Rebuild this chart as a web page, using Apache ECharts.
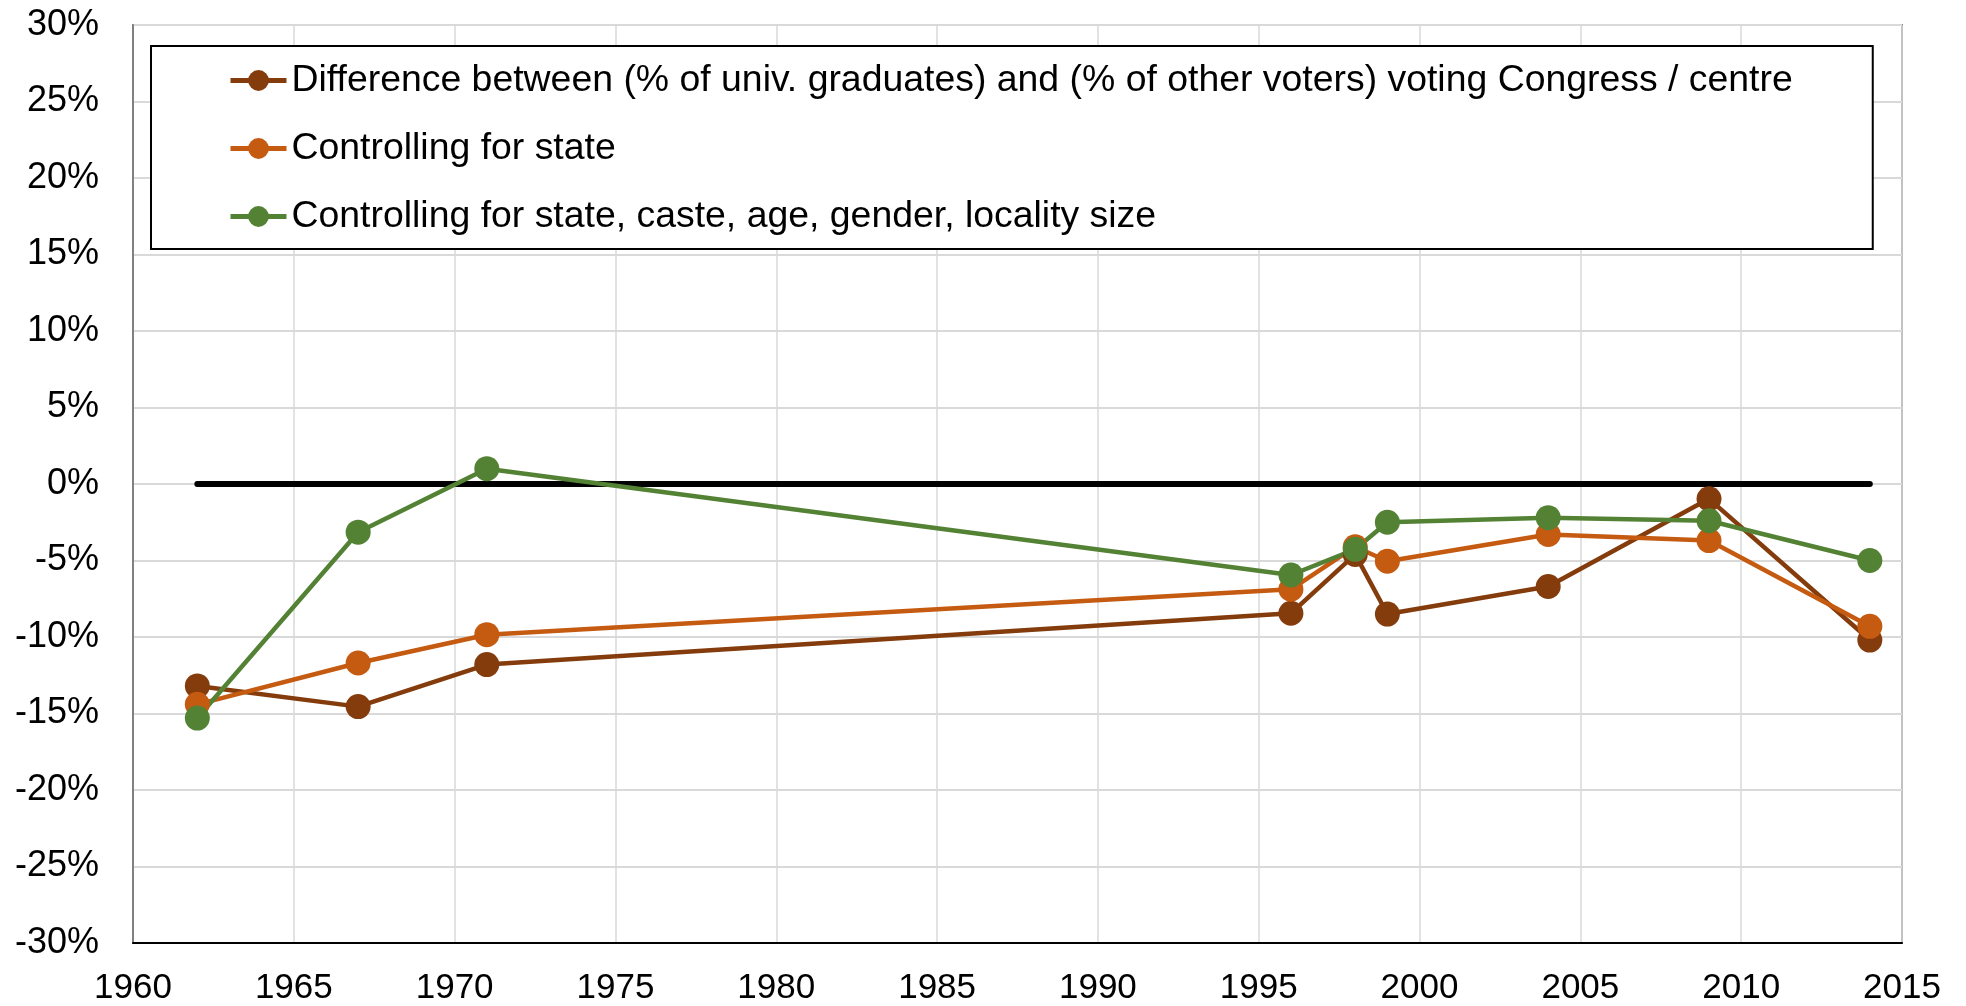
<!DOCTYPE html>
<html>
<head>
<meta charset="utf-8">
<script src="https://cdn.jsdelivr.net/npm/echarts@6/dist/echarts.min.js"></script>
<style>
html,body{margin:0;padding:0;background:#fff;}
#chart{width:1966px;height:1006px;}
</style>
</head>
<body>
<div id="chart"></div>
<script>
const years = [1962, 1967, 1971, 1996, 1998, 1999, 2004, 2009, 2014];
const diffRaw = [-13.2, -14.55, -11.8, -8.45, -4.6, -8.5, -6.7, -0.97, -10.2];
const ctrlState = [-14.4, -11.7, -9.85, -6.88, -4.1, -5.05, -3.3, -3.7, -9.3];
const ctrlAll = [-15.3, -3.15, 1.0, -5.95, -4.27, -2.5, -2.2, -2.4, -5.0];
const zeroLineX = [1962, 2014];
const zeroLineY = [0, 0];
const seriesNames = [
  'Difference between (% of univ. graduates) and (% of other voters) voting Congress / centre',
  'Controlling for state',
  'Controlling for state, caste, age, gender, locality size'
];
const colors = ['#843C0C', '#C55A11', '#548235'];

const pair = (xs, ys) => xs.map((x, i) => [x, ys[i]]);
const font = 'Liberation Sans, Arial, sans-serif';

const chart = echarts.init(document.getElementById('chart'), null, {renderer: 'canvas'});
const mk = (name, data, color) => ({
  name, type: 'line', data: pair(years, data),
  symbol: 'circle', symbolSize: 25,
  lineStyle: {color, width: 4.5},
  itemStyle: {color},
  animation: false
});
chart.setOption({
  animation: false,
  grid: {left: 133, right: 64, top: 25, bottom: 62, show: true, borderColor: '#808080', borderWidth: 2},
  legend: {
    data: seriesNames,
    orient: 'vertical',
    left: 151, top: 46,
    padding: [16, 80, 14, 77],
    itemGap: 31,
    itemWidth: 56, itemHeight: 26,
    itemTextGap: 4,
    borderColor: '#000', borderWidth: 2,
    backgroundColor: '#fff',
    lineStyle: {width: 5},
    textStyle: {fontFamily: font, fontSize: 37.4, color: '#000', lineHeight: 37}
  },
  xAxis: {
    type: 'value', min: 1960, max: 2015, interval: 5,
    axisLine: {show: true, onZero: false, lineStyle: {color: '#000', width: 2}},
    axisTick: {show: false},
    axisLabel: {fontFamily: font, fontSize: 35, color: '#000', margin: 28, formatter: v => String(v)},
    splitLine: {show: true, lineStyle: {color: '#d9d9d9', width: 1.5}}
  },
  yAxis: {
    type: 'value', min: -30, max: 30, interval: 5,
    axisLine: {show: true, lineStyle: {color: '#808080', width: 2}},
    axisTick: {show: false},
    axisLabel: {fontFamily: font, fontSize: 36, color: '#000', margin: 34, formatter: v => v + '%'},
    splitLine: {show: true, lineStyle: {color: '#d9d9d9', width: 2}}
  },
  series: [
    {name: 'zero', type: 'line', data: pair(zeroLineX, zeroLineY), symbol: 'none',
     lineStyle: {color: '#000', width: 6, cap: 'round'}, silent: true, z: 1},
    mk(seriesNames[0], diffRaw, colors[0]),
    mk(seriesNames[1], ctrlState, colors[1]),
    mk(seriesNames[2], ctrlAll, colors[2])
  ]
});
</script>
</body>
</html>
